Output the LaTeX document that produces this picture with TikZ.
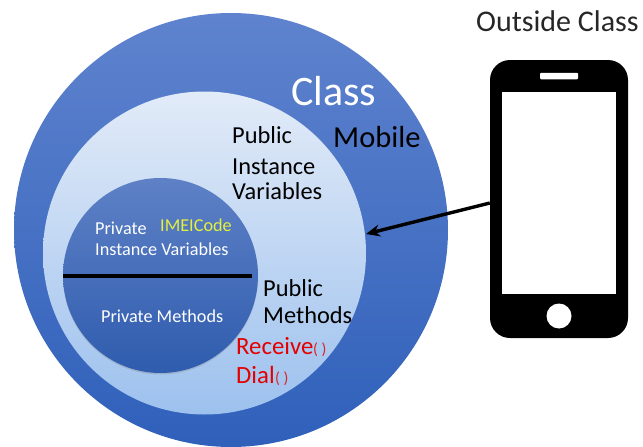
\documentclass[tikz,border=0pt]{standalone}
\usepackage{fontspec}
\setmainfont{Carlito}
\usetikzlibrary{arrows.meta,shadows}
\definecolor{outerTop}{HTML}{5F83CE}
\definecolor{outerBot}{HTML}{2F60BA}
\definecolor{midTop}{HTML}{E2EBF8}
\definecolor{midBot}{HTML}{9DC1EE}
\definecolor{innerTop}{HTML}{5E81C6}
\definecolor{innerBot}{HTML}{2F5CAE}
\definecolor{imei}{HTML}{E4F03C}
\tikzset{
  disc/.style={circle,inner sep=0pt,shading angle=0},
  lbl/.style={anchor=base west,inner sep=0pt,font=\fontsize{#1}{#1}\selectfont},
  lbl/.default=24.4,
  wlbl/.style={lbl=18.2,text=white},
  redlbl/.style={lbl=24.8,text=red!90!black},
  paren/.style={lbl=16,text=red!70!gray},
}
\begin{document}
\begin{tikzpicture}[x=1pt,y=-1pt]
\useasboundingbox (0,0) rectangle (643,447);
\node[disc,minimum size=434pt,top color=outerTop,bottom color=outerBot] (outer) at (231,230) {};
\node[disc,minimum size=323pt,top color=midTop,bottom color=midBot] (mid) at (204.5,253) {};
\node[disc,minimum size=195pt,top color=innerTop,bottom color=innerBot,
  drop shadow={opacity=.3,shadow xshift=0pt,shadow yshift=-1.5pt}] (inner) at (160.5,275.5) {};
\coordinate (divL) at (63,276);
\coordinate (divR) at (252,276);
\draw[line width=4pt] (divL) -- (divR);

\node[lbl=42,text=white] (class) at (291,105) {Class};
\node[lbl=30.5] (mobile) at (333,147) {Mobile};
\node[lbl] (pub1) at (232,143) {Public};
\node[lbl] (pub2) at (232,174) {Instance};
\node[lbl] (pub3) at (232,199) {Variables};
\node[wlbl] (pv1) at (95,234) {Private};
\node[lbl=18.2,text=imei] (imeicode) at (160,231) {IMEICode};
\node[wlbl] (pv2) at (95,255) {Instance Variables};
\node[wlbl] (pm) at (101,322) {Private Methods};
\node[lbl] (pubm1) at (263,296) {Public};
\node[lbl] (pubm2) at (263,323) {Methods};
\node[redlbl] (rcv) at (236,354) {Receive};
\node[paren] (rcvp) at (313,354) {( )};
\node[redlbl] (dial) at (236,383) {Dial};
\node[paren] (dialp) at (275,383) {( )};
\node[lbl=30,text=black!85] (outside) at (476,31) {Outside Class};

\node[fill=black,rounded corners=20pt,minimum width=138pt,minimum height=278pt,inner sep=0pt] (phone) at (559,199) {};
\node[fill=white,minimum width=114pt,minimum height=202pt,inner sep=0pt] (screen) at (559,193) {};
\node[fill=white,rounded corners=1pt,minimum width=38pt,minimum height=6.5pt,inner sep=0pt] (speaker) at (559,76) {};
\node[fill=white,circle,minimum size=25pt,inner sep=0pt] (homebtn) at (559,316) {};

\coordinate (arrowFrom) at (phone.west |- 0,203);
\coordinate (arrowTo) at (366,234);
\draw[line width=3.4pt,-{Stealth[length=14pt,width=12pt]}] (arrowFrom) -- (arrowTo);
\end{tikzpicture}
\end{document}
